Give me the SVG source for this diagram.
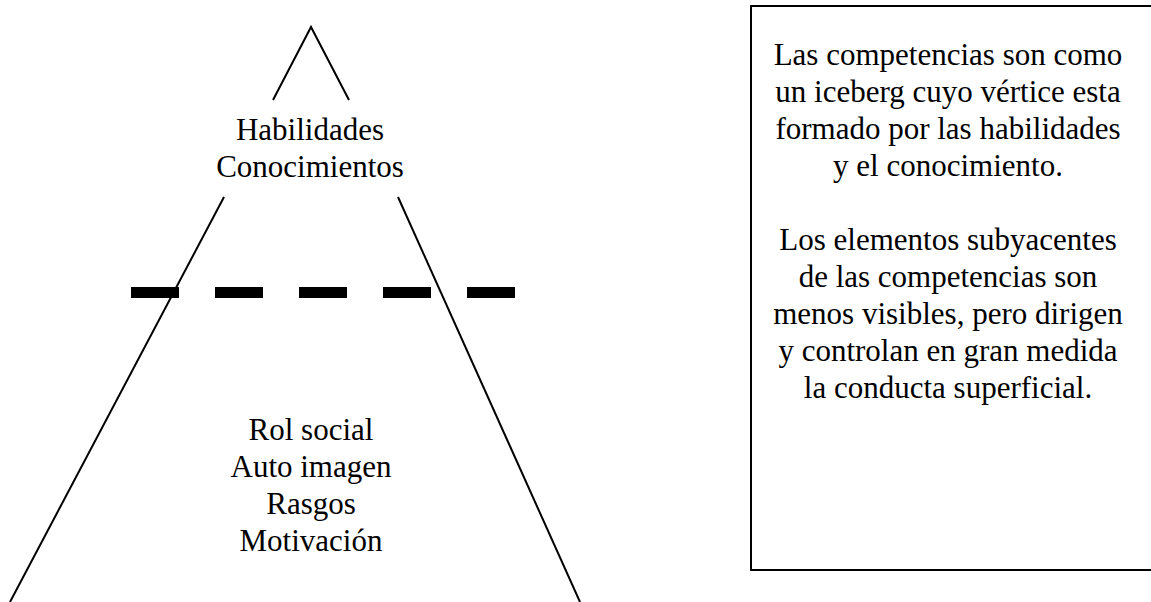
<svg xmlns="http://www.w3.org/2000/svg" width="1151" height="602" viewBox="0 0 1151 602">
<style>
.t{font-family:"Liberation Serif","Times New Roman",serif;font-size:31px;fill:#000;text-anchor:middle}
.ln{stroke:#000;stroke-width:2;fill:none}
.dash{fill:#000}
</style>
<rect width="1151" height="602" fill="#fff"/>
<g id="connectors">
<polyline class="ln" points="273,100 311,27 349,100"/>
<line class="ln" x1="224" y1="197" x2="10" y2="602"/>
<line class="ln" x1="398" y1="197" x2="580" y2="602"/>
</g>
<g id="waterline">
<rect class="dash" x="131" y="287" width="48" height="11"/>
<rect class="dash" x="215" y="287" width="48" height="11"/>
<rect class="dash" x="299" y="287" width="48" height="11"/>
<rect class="dash" x="383" y="287" width="48" height="11"/>
<rect class="dash" x="467" y="287" width="48" height="11"/>
</g>
<g id="visible">
<text class="t" x="310" y="140">Habilidades</text>
<text class="t" x="310" y="177">Conocimientos</text>
</g>
<g id="hidden">
<text class="t" x="311" y="440">Rol social</text>
<text class="t" x="311" y="477">Auto imagen</text>
<text class="t" x="311" y="514">Rasgos</text>
<text class="t" x="311" y="551">Motivación</text>
</g>
<g id="note">
<rect x="751" y="6" width="410" height="564" fill="none" stroke="#000" stroke-width="2"/>
<text class="t" x="948" y="65">Las competencias son como</text>
<text class="t" x="948" y="102">un iceberg cuyo vértice esta</text>
<text class="t" x="948" y="139">formado por las habilidades</text>
<text class="t" x="948" y="176">y el conocimiento.</text>
<text class="t" x="948" y="250">Los elementos subyacentes</text>
<text class="t" x="948" y="287">de las competencias son</text>
<text class="t" x="948" y="324">menos visibles, pero dirigen</text>
<text class="t" x="948" y="361">y controlan en gran medida</text>
<text class="t" x="948" y="398">la conducta superficial.</text>
</g>
</svg>
